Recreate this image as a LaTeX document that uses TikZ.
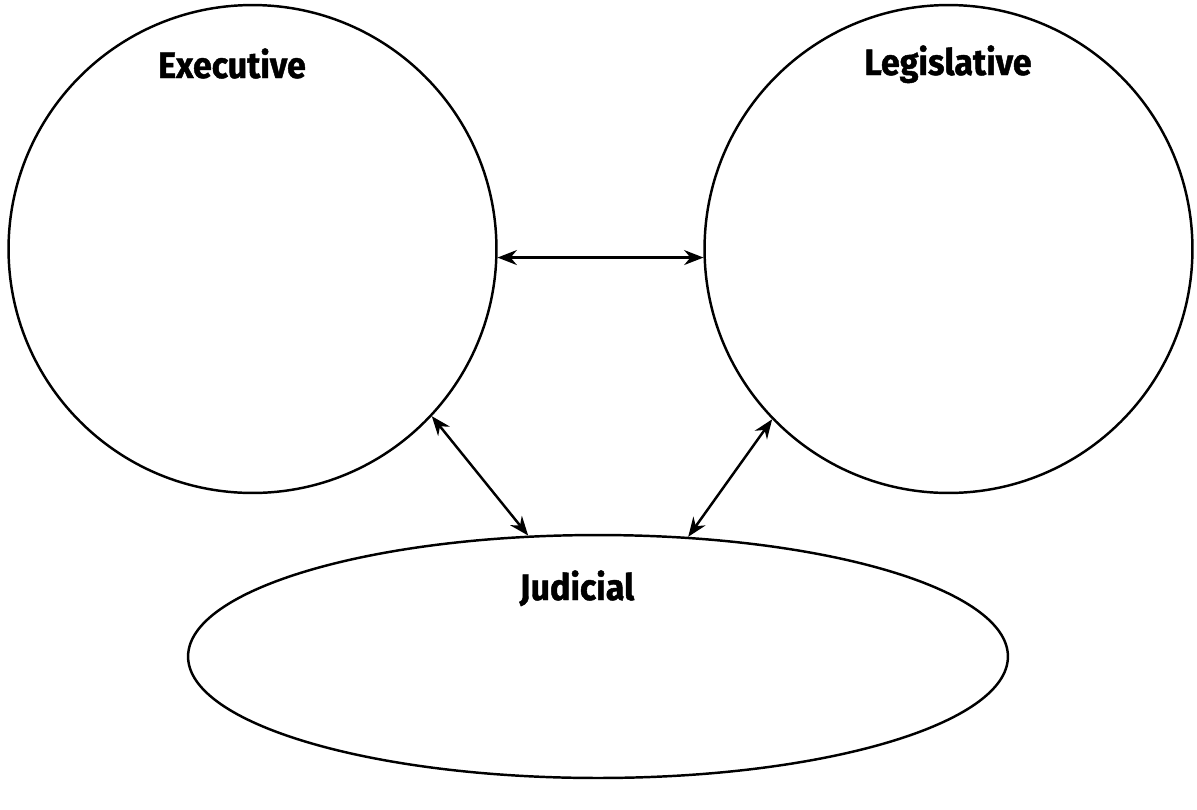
\documentclass[tikz,border=0pt]{standalone}
\usepackage{fontspec}
\usepackage{tikz}
\usetikzlibrary{arrows.meta,shapes.geometric}
\newfontfamily\branchfont{Fira Sans}[FakeStretch=0.93,BoldFeatures={FakeBold=1.2}]
\newcommand\branch[1]{{\branchfont\bfseries\fontsize{20.8}{24}\selectfont #1}}

\begin{document}
\begin{tikzpicture}[<->,line width=1.4pt,>={Stealth[length=11pt,width=8.5pt]},x=0.02cm,y=-0.02cm]
    \tikzstyle{branch}=[draw=black, circle, minimum size=9.76cm, inner sep=0pt, fill=none]
    \tikzstyle{court}=[draw=black, ellipse, minimum width=16.4cm, minimum height=4.86cm, inner sep=0pt, fill=none]
    \tikzstyle{title}=[anchor=base, text=black, inner sep=0pt]
    \useasboundingbox (0,0) rectangle (1197,809);

    \node[branch] (exec) at (252.5,249)  {};
    \node[branch] (leg)  at (948.5,249)  {};
    \node[court]  (jud)  at (598,656.5)  {};

    \node[title] (lexec) at (232,78)  {\branch{Executive}};
    \node[title] (lleg)  at (948,75)  {\branch{Legislative}};
    \node[title] (ljud)  at (577,600) {\branch{Judicial}};

    \path
     (exec.-2)   edge[] (leg.182)
     (exec.-43)  edge[] (jud.120)
     (leg.-136)  edge[] (jud.53)
     ;
  \end{tikzpicture}
\end{document}
